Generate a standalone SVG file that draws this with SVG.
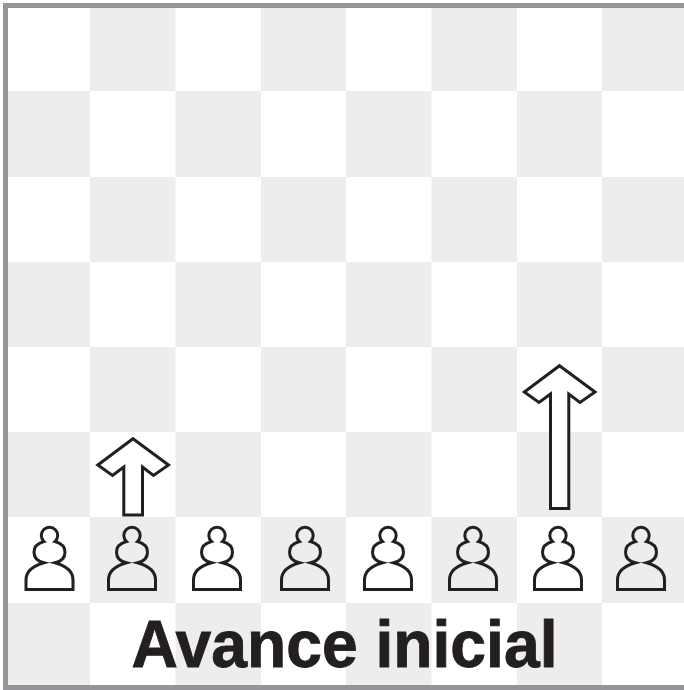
<svg xmlns="http://www.w3.org/2000/svg" xmlns:xlink="http://www.w3.org/1999/xlink" width="684" height="690" viewBox="0 0 684 690">
<style>
.d{fill:#ededed}
.o{fill:#fff;stroke:#231f20;stroke-width:3;stroke-linejoin:miter}
.p{fill:none;stroke:#231f20;stroke-width:3}
text{font-family:"Liberation Sans",Arial,sans-serif;font-weight:bold;font-size:66px;fill:#231f20;stroke:#231f20;stroke-width:.9}
</style>
<defs>
<path id="pawn" d="M-23.500 589.500V580C-23.500 571-15 565.500-5.500 562.800C-11 561.500-15.500 558-15.500 552.150C-15.500 546.500-11 543-5.500 541.500A8.200 8.200 0 1 1 5.500 541.500C11 543 15.500 546.500 15.500 552.150C15.500 558 11 561.500 5.500 562.800C15 565.500 23.500 571 23.500 580V589.500Z"/>
</defs>
<rect width="684" height="690" fill="#fff"/>
<g id="board">
<rect class="d" x="90" y="8" width="85.500" height="83"/><rect class="d" x="261" y="8" width="85" height="83"/><rect class="d" x="431.500" y="8" width="85.500" height="83"/><rect class="d" x="602" y="8" width="82" height="83"/>
<rect class="d" x="8" y="91" width="82" height="86"/><rect class="d" x="175.500" y="91" width="85.500" height="86"/><rect class="d" x="346" y="91" width="85.500" height="86"/><rect class="d" x="517" y="91" width="85" height="86"/>
<rect class="d" x="90" y="177" width="85.500" height="85"/><rect class="d" x="261" y="177" width="85" height="85"/><rect class="d" x="431.500" y="177" width="85.500" height="85"/><rect class="d" x="602" y="177" width="82" height="85"/>
<rect class="d" x="8" y="262" width="82" height="85"/><rect class="d" x="175.500" y="262" width="85.500" height="85"/><rect class="d" x="346" y="262" width="85.500" height="85"/><rect class="d" x="517" y="262" width="85" height="85"/>
<rect class="d" x="90" y="347" width="85.500" height="85"/><rect class="d" x="261" y="347" width="85" height="85"/><rect class="d" x="431.500" y="347" width="85.500" height="85"/><rect class="d" x="602" y="347" width="82" height="85"/>
<rect class="d" x="8" y="432" width="82" height="85"/><rect class="d" x="175.500" y="432" width="85.500" height="85"/><rect class="d" x="346" y="432" width="85.500" height="85"/><rect class="d" x="517" y="432" width="85" height="85"/>
<rect class="d" x="90" y="517" width="85.500" height="86"/><rect class="d" x="261" y="517" width="85" height="86"/><rect class="d" x="431.500" y="517" width="85.500" height="86"/><rect class="d" x="602" y="517" width="82" height="86"/>
<rect class="d" x="8" y="603" width="82" height="82"/><rect class="d" x="175.500" y="603" width="85.500" height="82"/><rect class="d" x="346" y="603" width="85.500" height="82"/><rect class="d" x="517" y="603" width="85" height="82"/>
<path d="M684 5.500H5.500V687.500H684" fill="none" stroke="#939598" stroke-width="5"/>
</g>
<g id="pawns" class="p">
<use xlink:href="#pawn" href="#pawn" x="49.500"/><use xlink:href="#pawn" href="#pawn" x="132"/><use xlink:href="#pawn" href="#pawn" x="217"/><use xlink:href="#pawn" href="#pawn" x="305"/><use xlink:href="#pawn" href="#pawn" x="388"/><use xlink:href="#pawn" href="#pawn" x="473"/><use xlink:href="#pawn" href="#pawn" x="558"/><use xlink:href="#pawn" href="#pawn" x="641"/>
</g>
<g id="arrows">
<path class="o" d="M133 438.700L168.500 465L153.500 475.500L142.500 467V515H123.800V467L112.500 475.500L97.800 465Z"/>
<path class="o" d="M559.500 365.700L595 392L580 402.500L568.800 394V508.500H550.500V394L539 402.500L524.300 392Z"/>
</g>
<text id="title" x="131.500" y="667" textLength="426" lengthAdjust="spacingAndGlyphs">Avance inicial</text>
</svg>
